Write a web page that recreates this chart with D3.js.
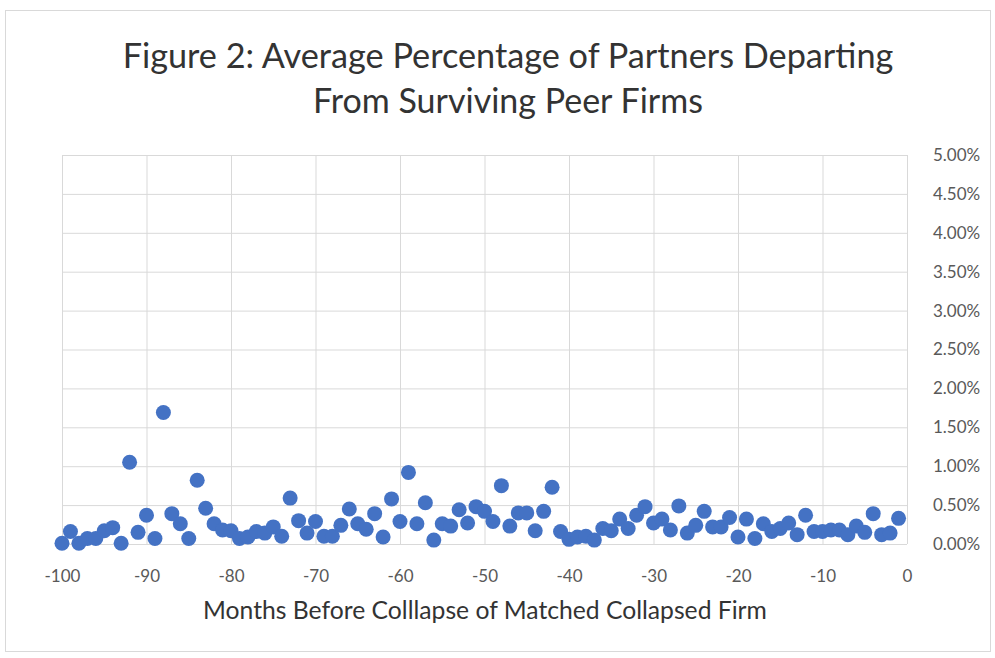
<!DOCTYPE html>
<html>
<head>
<meta charset="utf-8">
<script src="https://cdn.jsdelivr.net/npm/d3@7"></script>
<style>
  body { margin: 0; background: #fff; }
  svg { display: block; font-family: Lato, "Open Sans", sans-serif; }
</style>
</head>
<body>
<svg id="chart"></svg>
<script>
const titleLines = ["Figure 2: Average Percentage of Partners Departing", "From Surviving Peer Firms"];
const xTitle = "Months Before Colllapse of Matched Collapsed Firm";
const months = d3.range(-100, 0);
const departPct = [
  0.01, 0.16, 0.01, 0.07, 0.07, 0.17, 0.21, 0.01, 1.05, 0.15,
  0.37, 0.07, 1.69, 0.39, 0.26, 0.07, 0.82, 0.46, 0.26, 0.18,
  0.17, 0.07, 0.09, 0.16, 0.14, 0.22, 0.10, 0.59, 0.30, 0.14,
  0.29, 0.10, 0.10, 0.24, 0.45, 0.26, 0.19, 0.39, 0.09, 0.58,
  0.29, 0.92, 0.26, 0.53, 0.05, 0.26, 0.23, 0.44, 0.27, 0.48,
  0.42, 0.29, 0.75, 0.23, 0.40, 0.40, 0.17, 0.42, 0.73, 0.16,
  0.06, 0.09, 0.10, 0.05, 0.20, 0.17, 0.32, 0.20, 0.37, 0.48,
  0.27, 0.32, 0.18, 0.49, 0.14, 0.24, 0.42, 0.22, 0.22, 0.34,
  0.09, 0.32, 0.07, 0.26, 0.16, 0.20, 0.27, 0.12, 0.37, 0.16,
  0.16, 0.18, 0.18, 0.12, 0.23, 0.15, 0.39, 0.12, 0.14, 0.33
];
const xTicks = d3.range(-100, 1, 10);
const yTicks = d3.range(0, 0.0501, 0.005);

const width = 995, height = 658;
const marginLeft = 62, marginRight = 88, marginTop = 155, marginBottom = 114;

const svg = d3.select("#chart").attr("width", width).attr("height", height);

svg.append("rect")
  .attr("x", 5.5).attr("y", 10.5)
  .attr("width", 985).attr("height", 641)
  .attr("fill", "#fff").attr("stroke", "#d9d9d9");

const x = d3.scaleLinear().domain([-100, 0]).range([marginLeft, width - marginRight]);
const y = d3.scaleLinear().domain([0, 0.05]).range([height - marginBottom, marginTop]);

// fit text to the width it has in the picture
function fit(sel, target) {
  const w = sel.node().getComputedTextLength();
  const s = parseFloat(sel.attr("font-size"));
  sel.attr("font-size", s * target / w);
}

const xGrid = svg.append("g")
  .attr("transform", `translate(0,${height - marginBottom})`)
  .call(d3.axisBottom(x).tickValues(xTicks).tickSize(-(height - marginTop - marginBottom)).tickFormat(""))
  .call(g => g.select(".domain").remove());
xGrid.selectAll("line").attr("stroke", "#d9d9d9");

const yGrid = svg.append("g")
  .attr("transform", `translate(${width - marginRight},0)`)
  .call(d3.axisRight(y).tickValues(yTicks).tickSize(0).tickPadding(26).tickFormat(d3.format(".2%")))
  .call(g => g.select(".domain").remove())
  .attr("font-family", null);
yGrid.selectAll("text").attr("fill", "#595959").attr("font-size", 17);
yGrid.selectAll(".tick").append("line")
  .attr("x1", 0).attr("x2", -(width - marginLeft - marginRight))
  .attr("stroke", "#d9d9d9");

const xAxisG = svg.append("g")
  .attr("transform", `translate(0,${height - marginBottom})`)
  .call(d3.axisBottom(x).tickValues(xTicks).tickSize(0).tickPadding(26).tickFormat(d => String(d)))
  .call(g => g.select(".domain").remove())
  .attr("font-family", null);
xAxisG.selectAll("text").attr("fill", "#595959").attr("font-size", 17);

svg.append("g")
  .selectAll("circle")
  .data(months)
  .join("circle")
  .attr("cx", d => x(d))
  .attr("cy", (d, i) => y(departPct[i] / 100))
  .attr("r", 7.5)
  .attr("fill", "#4472c4");

const t1 = svg.append("text")
  .attr("x", 508).attr("y", 68).attr("text-anchor", "middle")
  .attr("font-size", 30).attr("fill", "#333")
  .text(titleLines[0]);
fit(t1, 771);
const t2 = svg.append("text")
  .attr("x", 508).attr("y", 113).attr("text-anchor", "middle")
  .attr("font-size", 30).attr("fill", "#333")
  .text(titleLines[1]);
fit(t2, 390);

const xt = svg.append("text")
  .attr("x", 485).attr("y", 619).attr("text-anchor", "middle")
  .attr("font-size", 20).attr("fill", "#333")
  .text(xTitle);
fit(xt, 564);
</script>
</body>
</html>
